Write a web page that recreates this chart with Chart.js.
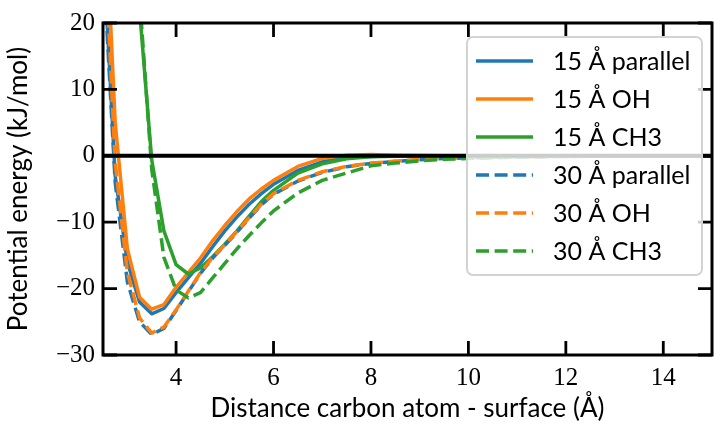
<!DOCTYPE html>
<html>
<head>
<meta charset="utf-8">
<script src="https://cdn.jsdelivr.net/npm/chart.js@4.4.1/dist/chart.umd.min.js"></script>
<style>
  html, body { margin: 0; padding: 0; background: #fff; }
</style>
</head>
<body>
<canvas id="myChart" width="714" height="428"></canvas>
<script>
// distance carbon atom - surface (Angstrom)
var distance = [2.5, 2.75, 3.0, 3.25, 3.5, 3.75, 4.0, 4.25, 4.5, 4.75, 5.0, 5.25, 5.5, 5.75, 6.0,
                6.5, 7.0, 7.5, 8.0, 8.5, 9.0, 9.5, 10.0, 11.0, 12.0, 13.0, 14.0, 15.0];

// potential energy (kJ/mol)
var parallel15 = [32, -3, -16, -22.0, -23.8, -23.0, -20.6, -18.4, -16.2, -13.7, -11.3, -9.2, -7.3, -5.7, -4.3,
                  -2.2, -0.9, -0.3, -0.1, 0, 0, 0, 0, 0, 0, 0, 0, 0];
var oh15 = [45, 5, -14, -21.3, -23.1, -22.4, -19.8, -17.6, -15.4, -12.8, -10.5, -8.4, -6.5, -5.0, -3.7,
            -1.6, -0.4, 0.1, 0.2, 0.1, 0.05, 0, 0, 0, 0, 0, 0, 0];
var ch315 = [400, 200, 90, 22, -0.6, -11.3, -16.4, -17.8, -16.9, -15.2, -13.3, -11.3, -9.1, -6.9, -5.2,
             -2.6, -1.2, -0.45, -0.15, -0.05, 0, 0, 0, 0, 0, 0, 0, 0];
var parallel30 = [30, -4, -19, -25.0, -26.9, -26.0, -23.3, -20.5, -17.7, -15.4, -13.5, -11.5, -9.4, -7.4, -5.8,
                  -3.8, -2.5, -1.65, -1.15, -0.85, -0.6, -0.42, -0.3, -0.15, -0.08, -0.04, -0.02, 0];
var oh30 = [38, -1, -17.5, -24.4, -26.7, -25.8, -23.2, -20.4, -17.6, -15.3, -13.4, -11.4, -9.3, -7.3, -5.7,
            -3.7, -2.4, -1.6, -1.1, -0.8, -0.55, -0.4, -0.28, -0.14, -0.07, -0.03, -0.01, 0];
var ch330 = [500, 260, 120, 24, -2, -15.3, -20.2, -21.4, -20.6, -18.4, -16.2, -14.0, -12.0, -10.1, -8.3,
             -5.6, -3.7, -2.6, -1.5, -1.1, -0.75, -0.52, -0.4, -0.2, -0.1, -0.05, -0.02, 0];

var xTicks = [4, 6, 8, 10, 12, 14];
var yTicks = [-30, -20, -10, 0, 10, 20];

var labels = ['15 Å parallel', '15 Å OH', '15 Å CH3', '30 Å parallel', '30 Å OH', '30 Å CH3'];
var series = [parallel15, oh15, ch315, parallel30, oh30, ch330];
var colors = ['#1f77b4', '#ff7f0e', '#2ca02c', '#1f77b4', '#ff7f0e', '#2ca02c'];
var dashed = [false, false, false, true, true, true];

var sansFont = 'Lato';
var serifFont = 'Liberation Serif';
var LW = 3.5;
var DASH = [13, 5.6];

function points(ys) {
    return distance.map(function (x, i) { return {x: x, y: ys[i]}; });
}

var datasets = series.map(function (ys, i) {
    return {
        label: labels[i],
        data: points(ys),
        showLine: true,
        borderColor: colors[i],
        backgroundColor: colors[i],
        borderWidth: LW,
        borderDash: dashed[i] ? DASH : [],
        borderJoinStyle: 'round',
        borderCapStyle: 'butt',
        pointRadius: 0,
        tension: 0,
        clip: 0,
        order: series.length - i   // later series on top, like matplotlib
    };
});

// zero line, frame, inward ticks and the legend box
var framePlugin = {
    id: 'frame',
    afterDatasetsDraw: function (chart) {
        var ctx = chart.ctx, a = chart.chartArea, y0 = chart.scales.y.getPixelForValue(0);
        ctx.save();
        ctx.strokeStyle = '#000';
        ctx.lineWidth = 4;
        ctx.beginPath();
        ctx.moveTo(a.left, y0);
        ctx.lineTo(a.right, y0);
        ctx.stroke();
        ctx.restore();
    },
    afterDraw: function (chart) {
        var ctx = chart.ctx, a = chart.chartArea;
        var xs = chart.scales.x, ys = chart.scales.y;
        var tl = 14;
        ctx.save();
        ctx.strokeStyle = '#000';
        ctx.lineWidth = 2.8;
        ctx.lineCap = 'butt';
        ctx.beginPath();
        xTicks.forEach(function (v) {
            var px = xs.getPixelForValue(v);
            ctx.moveTo(px, a.bottom); ctx.lineTo(px, a.bottom - tl);
            ctx.moveTo(px, a.top); ctx.lineTo(px, a.top + tl);
        });
        yTicks.forEach(function (v) {
            var py = ys.getPixelForValue(v);
            ctx.moveTo(a.left, py); ctx.lineTo(a.left + tl, py);
            ctx.moveTo(a.right, py); ctx.lineTo(a.right - tl, py);
        });
        ctx.stroke();
        ctx.lineWidth = 3;
        ctx.strokeRect(a.left, a.top, a.right - a.left, a.bottom - a.top);

        // legend
        var bw = 235, bh = 238;
        var bx = a.right - 10 - bw, by = a.top + 14;
        ctx.beginPath();
        ctx.roundRect(bx, by, bw, bh, 6);
        ctx.fillStyle = 'rgba(255,255,255,0.8)';
        ctx.fill();
        ctx.strokeStyle = '#d3d3d3';
        ctx.lineWidth = 2;
        ctx.stroke();

        ctx.font = '25px ' + sansFont;
        ctx.textBaseline = 'middle';
        ctx.textAlign = 'left';
        chart.data.datasets.forEach(function (ds, i) {
            var ry = by + 24 + i * 38;
            ctx.strokeStyle = ds.borderColor;
            ctx.lineWidth = LW;
            ctx.setLineDash(ds.borderDash);
            ctx.beginPath();
            ctx.moveTo(bx + 9, ry);
            ctx.lineTo(bx + 66, ry);
            ctx.stroke();
            ctx.setLineDash([]);
            ctx.fillStyle = '#000';
            ctx.fillText(ds.label, bx + 86, ry + 1);
        });
        ctx.restore();
    }
};

var ctx = document.getElementById('myChart');
var myChart = new Chart(ctx, {
    type: 'scatter',
    data: {datasets: datasets},
    options: {
        responsive: false,
        animation: false,
        devicePixelRatio: 1,
        layout: {padding: {top: 20, right: 2, left: 0, bottom: 0}},
        plugins: {legend: {display: false}, tooltip: {enabled: false}},
        scales: {
            x: {
                type: 'linear',
                min: 2.5,
                max: 15,
                afterBuildTicks: function (s) { s.ticks = xTicks.map(function (v) { return {value: v}; }); },
                afterFit: function (s) { s.height = 73; },
                grid: {display: false, drawTicks: false},
                border: {display: false},
                ticks: {
                    color: '#000',
                    maxRotation: 0,
                    autoSkip: false,
                    padding: 8,
                    font: {family: serifFont, size: 25}
                },
                title: {
                    display: true,
                    text: 'Distance carbon atom - surface (Å)',
                    color: '#000',
                    font: {family: sansFont, size: 26},
                    padding: {top: 0, bottom: 4}
                }
            },
            y: {
                type: 'linear',
                min: -30,
                max: 20,
                afterBuildTicks: function (s) { s.ticks = yTicks.map(function (v) { return {value: v}; }); },
                afterFit: function (s) { s.width = 103; },
                grid: {display: false, drawTicks: false},
                border: {display: false},
                ticks: {
                    color: '#000',
                    padding: 8,
                    font: {family: serifFont, size: 25},
                    callback: function (v) { return v < 0 ? '\u2212' + Math.abs(v) : '' + v; }
                },
                title: {
                    display: true,
                    text: 'Potential energy (kJ/mol)',
                    color: '#000',
                    font: {family: sansFont, size: 26},
                    padding: {top: 3, bottom: 0}
                }
            }
        }
    },
    plugins: [framePlugin]
});
</script>
</body>
</html>
